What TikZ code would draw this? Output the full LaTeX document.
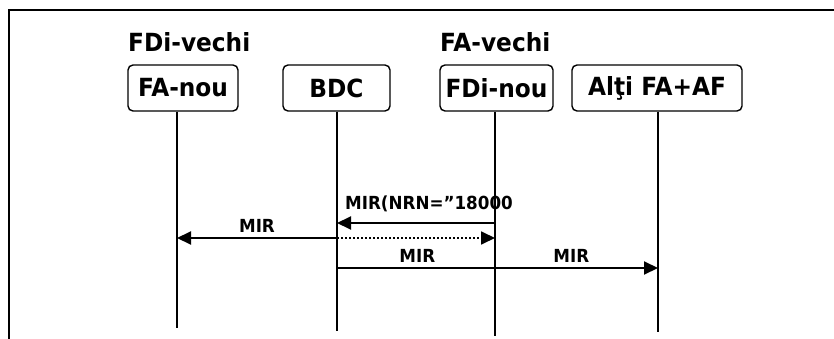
\documentclass[tikz,border=0pt]{standalone}
\usepackage{fontspec}
\setmainfont[FakeStretch=0.93]{DejaVu Sans}
\usetikzlibrary{arrows.meta}
\begin{document}
\begin{tikzpicture}[x=1pt, y=-1pt,
    actor/.style={draw, line width=1.4pt, rounded corners=5pt, minimum height=46pt,
      inner sep=0pt, font=\fontsize{25}{28}\selectfont\bfseries},
    role/.style={inner sep=0pt, anchor=base west, font=\fontsize{25}{28}\selectfont\bfseries},
    lifeline/.style={line width=1.5pt},
    msg/.style={line width=2pt, -{Triangle[length=14pt, width=13pt]}},
    lbl/.style={inner sep=0pt, font=\fontsize{18}{21}\selectfont\bfseries}]
  \useasboundingbox (0,0) rectangle (834,339);
  % frame
  \draw[line width=1.6pt] (9,339) -- (9,10) -- (834,10);
  % roles and actors
  \node[role] (fdivechi) at (128,52) {FDi-vechi};
  \node[role] (favechi) at (440,52) {FA-vechi};
  \node[actor, minimum width=110pt] (fanou) at (183,88) {FA-nou};
  \node[actor, minimum width=107pt] (bdc) at (336.5,88) {BDC};
  \node[actor, minimum width=113pt] (fdinou) at (496.5,88) {FDi-nou};
  \node[actor, minimum width=170pt] (alti) at (657,88) {Alţi FA+AF};
  % lifelines
  \coordinate (fa-end) at (177,328);
  \coordinate (bdc-end) at (337,331);
  \coordinate (fdi-end) at (495,336);
  \coordinate (alti-end) at (658,332);
  \draw[lifeline] (fanou.south -| fa-end) -- (fa-end);
  \draw[lifeline] (bdc.south -| bdc-end) -- (bdc-end);
  \draw[lifeline] (fdinou.south -| fdi-end) -- (fdi-end);
  \draw[lifeline] (alti.south -| alti-end) -- (alti-end);
  % message levels
  \coordinate (m1) at (0,223);
  \coordinate (m2) at (0,238);
  \coordinate (m3) at (0,268);
  \begin{scope}[every node/.style={lbl, anchor=base, yshift=6pt}]
    \draw[msg] (fdi-end |- m1) -- (bdc-end |- m1);
    \node[anchor=base west, yshift=0pt] (nrn) at (345,215) {MIR(NRN=”18000};
    \draw[msg] (bdc-end |- m2) -- node {MIR} (fa-end |- m2);
    \draw[msg, line width=1.8pt, dash pattern=on 1.6pt off 2.4pt] (bdc-end |- m2) -- (fdi-end |- m2);
    \draw[msg] (bdc-end |- m3) -- node[pos=0.25] {MIR} node[pos=0.73] {MIR} (alti-end |- m3);
  \end{scope}
\end{tikzpicture}
\end{document}
